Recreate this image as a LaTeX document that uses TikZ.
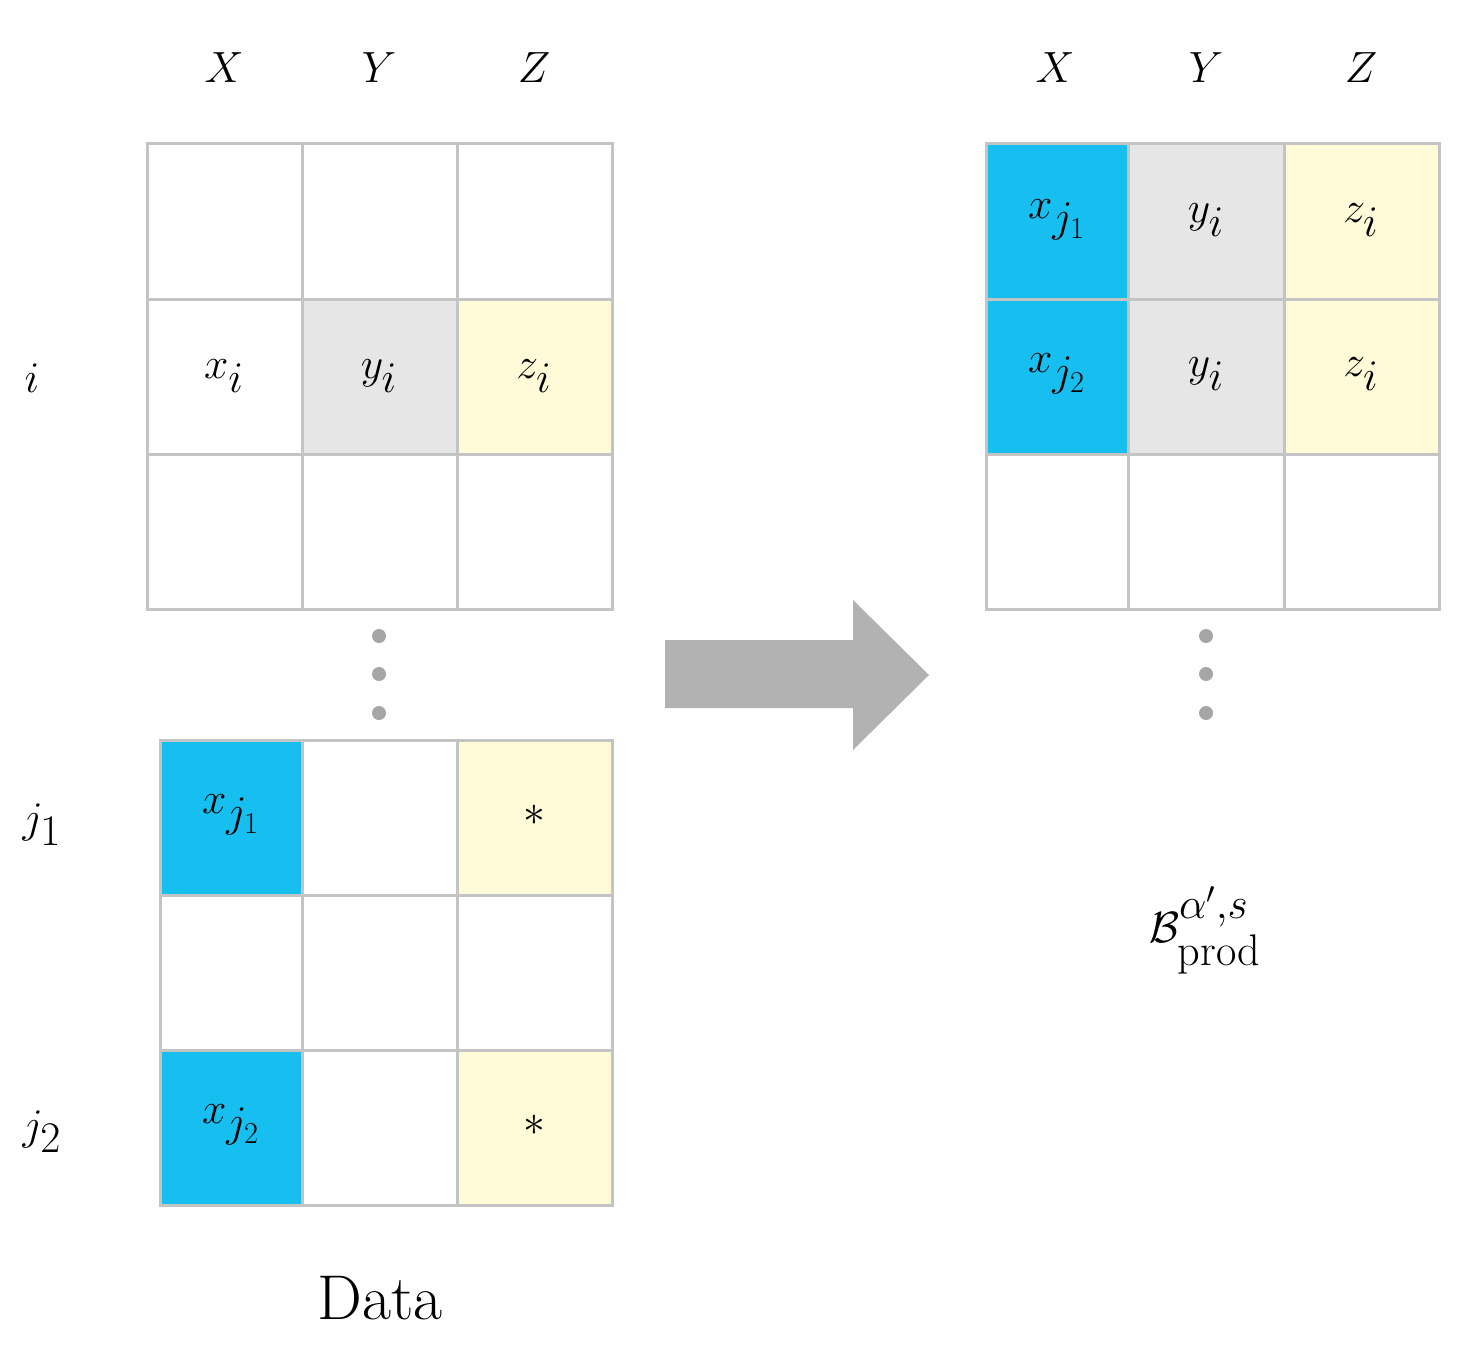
\documentclass[tikz,border=0pt]{standalone}
\usepackage{amsmath}
\begin{document}
\begin{tikzpicture}[x=0.02cm,y=-0.02cm,
  cell/.style={draw=lc,line width=0.06cm},
  lab/.style={font=\fontsize{36}{40}\selectfont},
  dot/.style={circle,fill=gray!70,inner sep=0pt,minimum size=0.28cm}]
\definecolor{lc}{HTML}{C4C4C4}
\definecolor{cb}{HTML}{17BEF0}
\definecolor{cg}{HTML}{E6E6E6}
\definecolor{cy}{HTML}{FFFBD9}
\useasboundingbox (0,0) rectangle (1466,1348);
% left top grid
\foreach \r/\ya/\yb in {1/144/299,2/299/454,3/454/609}{
 \foreach \c/\xa/\xb in {1/147/302,2/302/457,3/457/612}{
  \path[cell] (\xa,\ya) rectangle (\xb,\yb);}}
\fill[cg] (302,299) rectangle (457,454);
\fill[cy] (457,299) rectangle (612,454);
\foreach \xa/\xb in {147/302,302/457,457/612}{\foreach \ya/\yb in {144/299,299/454,454/609}{\draw[cell] (\xa,\ya) rectangle (\xb,\yb);}}
% bottom left grid
\fill[cb] (160,740) rectangle (302,895);
\fill[cb] (160,1050) rectangle (302,1205);
\fill[cy] (457,740) rectangle (612,895);
\fill[cy] (457,1050) rectangle (612,1205);
\foreach \xa/\xb in {160/302,302/457,457/612}{\foreach \ya/\yb in {740/895,895/1050,1050/1205}{\draw[cell] (\xa,\ya) rectangle (\xb,\yb);}}
% right grid
\fill[cb] (986,144) rectangle (1128,454);
\fill[cg] (1128,144) rectangle (1284,454);
\fill[cy] (1284,144) rectangle (1439,454);
\foreach \xa/\xb in {986/1128,1128/1284,1284/1439}{\foreach \ya/\yb in {144/299,299/454,454/609}{\draw[cell] (\xa,\ya) rectangle (\xb,\yb);}}
% headers
\node[lab] (lx) at (224,68) {$X$};
\node[lab] (ly) at (379,68) {$Y$};
\node[lab] (lz) at (534,68) {$Z$};
\node[lab] (rx) at (1055,68) {$X$};
\node[lab] (ry) at (1206,68) {$Y$};
\node[lab] (rz) at (1361,68) {$Z$};
% cell texts
\node[lab] (xi) at (224,376) {$x_i$};
\node[lab] (yi) at (379,376) {$y_i$};
\node[lab] (zi) at (534,376) {$z_i$};
\node[lab] (xj1) at (231,815) {$x_{j_1}$};
\node[lab] (s1) at (534,815) {$*$};
\node[lab] (xj2) at (231,1125) {$x_{j_2}$};
\node[lab] (s2) at (534,1125) {$*$};
\node[lab] (rxj1) at (1057,220) {$x_{j_1}$};
\node[lab] (ryi1) at (1206,220) {$y_i$};
\node[lab] (rzi1) at (1361,220) {$z_i$};
\node[lab] (rxj2) at (1057,374) {$x_{j_2}$};
\node[lab] (ryi2) at (1206,374) {$y_i$};
\node[lab] (rzi2) at (1361,374) {$z_i$};
% row labels
\node[lab] (ri) at (32,378) {$i$};
\node[lab] (rj1) at (42,825) {$j_1$};
\node[lab] (rj2) at (42,1132) {$j_2$};
% dots
\foreach \y in {636,674,713}{\node[dot] at (379,\y) {}; \node[dot] at (1206,\y) {};}
% arrow
\fill[gray!60] (665,640) -- (853,640) -- (853,600) -- (929,675) -- (853,750) -- (853,708) -- (665,708) -- cycle;
\node[lab] (data) at (380,1298) {Data};
\node[lab] (B) at (1205,930) {$\mathcal{B}^{\alpha',s}_{\text{prod}}$};
\end{tikzpicture}
\end{document}
